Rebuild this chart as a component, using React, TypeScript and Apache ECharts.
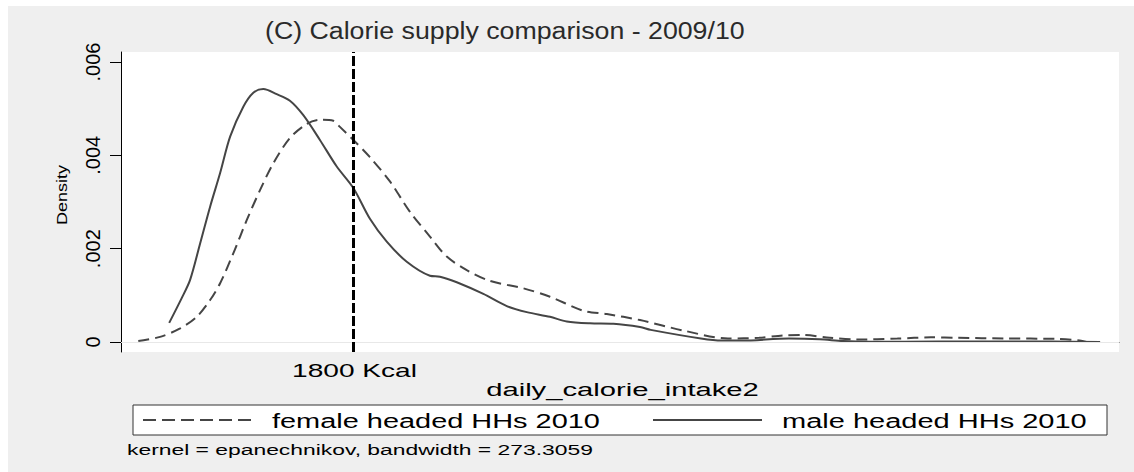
import React, { useEffect, useRef } from "react";
import * as echarts from "echarts";

// ---- data ----
const femaleX = [856, 952, 1040, 1113, 1172, 1216, 1274, 1333, 1392, 1450, 1523, 1597, 1655, 1714, 1743, 1802, 1875, 1963, 2051, 2139, 2213, 2301, 2403, 2550, 2667, 2814, 2917, 3063, 3259, 3450, 3587, 3690, 3779, 3898, 4017, 4195, 4343, 4462, 4670, 4893, 4997, 5027];
const femaleY = [0.00002, 0.00011, 0.00029, 0.00054, 0.0009, 0.00126, 0.0019, 0.00261, 0.00326, 0.00383, 0.00437, 0.00467, 0.00476, 0.00474, 0.00461, 0.00433, 0.00396, 0.00344, 0.00279, 0.00226, 0.00183, 0.00154, 0.00131, 0.00115, 0.00097, 0.00067, 0.0006, 0.00047, 0.00024, 0.000075, 0.00009, 0.00014, 0.00015, 0.00009, 0.000054, 0.000075, 0.0001, 0.00009, 0.000075, 0.000067, 0.000032, 0.000002];
const maleX = [992, 1047, 1084, 1128, 1172, 1216, 1260, 1318, 1362, 1406, 1465, 1523, 1582, 1655, 1729, 1802, 1875, 1949, 2037, 2139, 2183, 2257, 2374, 2477, 2565, 2667, 2741, 2843, 2946, 3063, 3110, 3331, 3422, 3512, 3718, 3853, 3956, 4075, 4374, 4647, 4867, 5087];
const maleY = [0.00041, 0.00094, 0.00133, 0.00211, 0.0029, 0.00362, 0.0044, 0.00504, 0.00534, 0.00542, 0.00531, 0.00517, 0.00486, 0.00433, 0.00376, 0.0033, 0.00264, 0.00215, 0.00172, 0.00142, 0.0014, 0.00128, 0.00103, 0.00077, 0.00064, 0.00054, 0.00044, 0.0004, 0.00039, 0.00032, 0.00026, 0.000075, 0.00003, 0.00003, 0.000075, 0.00006, 0.00002, 0.000005, 0.00001, 0.00001, 0.00001, 0.0];
const yTicks = [0, 0.002, 0.004, 0.006];
const yTickLabels = ["0", ".002", ".004", ".006"];
const cutoff = 1800;
const cutoffLabel = "1800 Kcal";
const titleText = "(C) Calorie supply comparison - 2009/10";
const xName = "daily_calorie_intake2";
const yName = "Density";
const legendNames = ["female headed HHs 2010", "male headed HHs 2010"];
const noteText = "kernel = epanechnikov, bandwidth = 273.3059";

const OX = 8;
const OY = 6;
const FONT = '"Liberation Sans", Arial, sans-serif';
const LINE = "#454545";

function measure(text: string, size: number): number {
  const c = document.createElement("canvas").getContext("2d");
  if (!c) return text.length * size * 0.5;
  c.font = `${size}px ${FONT}`;
  return c.measureText(text).width;
}

function sText(text: string, px: number, py: number, size: number, width: number, align: string, fill: string, rotation = 0) {
  const w = measure(text, size);
  return {
    type: "text",
    x: px - OX,
    y: py - OY,
    rotation,
    scaleX: width / w,
    silent: true,
    style: {
      text,
      fontSize: size,
      fontFamily: FONT,
      fill,
      align,
      textAlign: align,
      verticalAlign: "middle",
      textVerticalAlign: "middle",
    },
  };
}

export default function App() {
  const ref = useRef<HTMLDivElement>(null);
  useEffect(() => {
    if (!ref.current) return;
    const chart = echarts.init(ref.current, undefined, { renderer: "svg" });
    const female = femaleX.map((x, i) => [x, femaleY[i]]);
    const male = maleX.map((x, i) => [x, maleY[i]]);
    chart.setOption({
      animation: false,
      backgroundColor: "#efefef",
      grid: {
        left: 121 - OX,
        top: 52 - OY,
        width: 998,
        height: 300,
        show: true,
        backgroundColor: "#ffffff",
        borderWidth: 0,
      },
      xAxis: {
        type: "value",
        min: 780,
        max: 5170,
        axisLine: { show: true, lineStyle: { color: "#222", width: 1 } },
        axisTick: { show: true, customValues: [cutoff], length: 7, lineStyle: { color: "#000", width: 3 } },
        axisLabel: { show: false },
        splitLine: { show: false },
      },
      yAxis: {
        type: "value",
        min: -0.000214,
        max: 0.006214,
        axisLine: { show: true, lineStyle: { color: "#000", width: 1 } },
        axisTick: { show: true, customValues: yTicks, length: 11, lineStyle: { color: "#000", width: 1 } },
        axisLabel: {
          customValues: yTicks,
          rotate: 90,
          margin: 18,
          fontSize: 20,
          fontFamily: FONT,
          color: "#000",
          formatter: (v: number) => {
            const i = yTicks.findIndex((t) => Math.abs(t - v) < 1e-9);
            return i >= 0 ? yTickLabels[i] : "";
          },
        },
        splitLine: { show: false },
      },
      series: [
        {
          type: "line",
          data: [],
          z: 1,
          silent: true,
          markLine: {
            silent: true,
            symbol: "none",
            label: { show: false },
            lineStyle: { color: "#e8e8e8", width: 1, type: "solid" },
            data: yTicks.map((v) => ({ yAxis: v })),
          },
        },
        {
          name: legendNames[0],
          type: "line",
          data: female,
          z: 3,
          smooth: 0.3,
          showSymbol: false,
          lineStyle: { color: LINE, width: 2, type: [11, 6] },
        },
        {
          name: legendNames[1],
          type: "line",
          data: male,
          z: 3,
          smooth: 0.3,
          showSymbol: false,
          lineStyle: { color: LINE, width: 2, type: "solid" },
          markLine: {
            silent: true,
            symbol: "none",
            label: { show: false },
            lineStyle: { color: "#000", width: 3, type: [10, 3] },
            data: [{ xAxis: cutoff }],
          },
        },
      ],
      graphic: [
        sText(titleText, 265, 31, 23, 480, "left", "#2a2a2a"),
        sText(yName, 62, 195, 15, 60, "center", "#000", Math.PI / 2),
        sText(cutoffLabel, 354.5, 371, 18, 125, "center", "#000"),
        sText(xName, 622.5, 389, 19, 273, "center", "#000"),
        {
          type: "rect",
          shape: { x: 133 - OX, y: 405 - OY, width: 974, height: 30 },
          style: { fill: "#fff", stroke: "#333", lineWidth: 1 },
          silent: true,
        },
        {
          type: "line",
          shape: { x1: 143 - OX, y1: 420 - OY, x2: 255 - OX, y2: 420 - OY },
          style: { stroke: LINE, lineWidth: 2, lineDash: [13, 6] },
          silent: true,
        },
        sText(legendNames[0], 272, 421, 20, 328, "left", "#000"),
        {
          type: "line",
          shape: { x1: 653 - OX, y1: 420 - OY, x2: 762 - OX, y2: 420 - OY },
          style: { stroke: LINE, lineWidth: 2 },
          silent: true,
        },
        sText(legendNames[1], 782, 421, 20, 305, "left", "#000"),
        sText(noteText, 127, 450, 15, 466, "left", "#000"),
      ],
    });
    return () => chart.dispose();
  }, []);
  return (
    <div
      ref={ref}
      style={{ position: "absolute", left: OX, top: OY, width: 1134 - OX, height: 472 - OY }}
    />
  );
}
